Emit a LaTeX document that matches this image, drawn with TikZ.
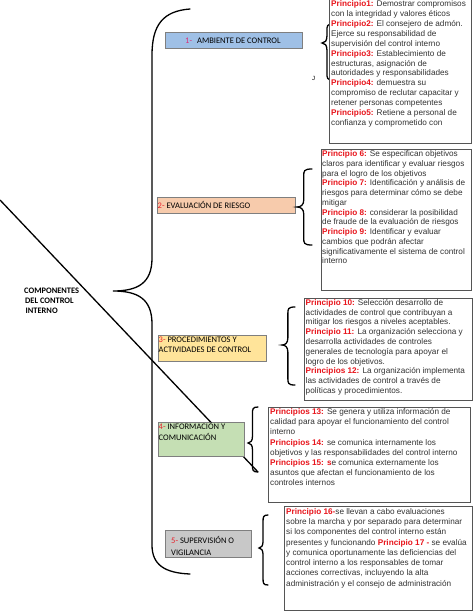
\documentclass[tikz,border=0pt]{standalone}
\usepackage{fontspec}
\setmainfont{Liberation Sans}
\newfontfamily\lblfont{Carlito}
\definecolor{prred}{HTML}{E8141B}
\definecolor{numred}{HTML}{E8202A}
\definecolor{nummag}{HTML}{D8307A}
\definecolor{bxline}{HTML}{7F7F7F}
\definecolor{tline}{HTML}{555555}
\definecolor{ctext}{HTML}{333333}
\definecolor{cblue}{HTML}{9FC0E6}
\definecolor{csalmon}{HTML}{F7CBAC}
\definecolor{cyellow}{HTML}{FFE49A}
\definecolor{cgreen}{HTML}{C5DFB4}
\definecolor{cgrey}{HTML}{C8C8C8}
\newcommand\prn[1]{\textcolor{prred}{\textbf{#1}}}
\newcommand\nmb[1]{\textcolor{numred}{#1}}
\tikzset{
  bracestyle/.style={draw=black, line width=1.3pt, line cap=round},
  cbox/.style={draw=bxline, line width=0.8pt, anchor=north west, inner sep=0, outer sep=0},
  tbox/.style={draw=tline, line width=0.8pt, fill=white, anchor=north west, inner sep=0, outer sep=0},
  ptext/.style={anchor=north west, inner sep=0, align=left, text=ctext, font=\fontsize{8.2}{9.9}\selectfont},
  lbl/.style={anchor=west, inner sep=0, align=left, text=black, font=\lblfont\fontsize{8.5}{10.5}\selectfont},
}
\newcommand\sbrace[5]{% xend, ytop, ytip, ybot, width
  \draw[bracestyle] (#1,#2) .. controls ({#1-0.55*#5},#2) and ({#1-0.55*#5},{#2+2}) .. ({#1-0.55*#5},{#2+7})
    -- ({#1-0.55*#5},{#3-7}) .. controls ({#1-0.55*#5},{#3-2}) and ({#1-0.75*#5},#3) .. ({#1-#5},#3)
    .. controls ({#1-0.75*#5},#3) and ({#1-0.55*#5},{#3+2}) .. ({#1-0.55*#5},{#3+7})
    -- ({#1-0.55*#5},{#4-7}) .. controls ({#1-0.55*#5},{#4-2}) and ({#1-0.55*#5},#4) .. (#1,#4);}
\begin{document}
\begin{tikzpicture}[x=1pt,y=-1pt]
\useasboundingbox (0,0) rectangle (474,613);
\fill[white] (0,0) rectangle (474,613);

% big brace
\draw[bracestyle] (190,9) .. controls (163,11) and (152,25) .. (152,55)
  -- (152,258) .. controls (152,283) and (138,291) .. (113,291)
  .. controls (138,291) and (152,299) .. (152,324)
  -- (152,545) .. controls (152,565) and (165,573) .. (190,574);

% diagonal line
\coordinate (dstart) at (0,200);
\coordinate (dend) at (258,472);
\draw[line width=1.3pt] (dstart) -- (dend);

% title
\node[anchor=north west, inner sep=0, align=left, font=\lblfont\bfseries\fontsize{8.4}{10}\selectfont] (title) at (24,288) {COMPONENTES\\\hspace{1pt}DEL CONTROL\\\hspace{1.5pt}INTERNO};

% coloured component boxes
\node[cbox, fill=cblue, minimum width=137pt, minimum height=16pt] (b1) at (165,32) {};
\node[lbl] (l1) at (185,40.5) {\textcolor{nummag}{1-}\hspace{5pt}AMBIENTE DE CONTROL};
\node[cbox, fill=csalmon, minimum width=138pt, minimum height=16pt] (b2) at (157,197) {};
\node[lbl] (l2) at (157.5,204.5) {\nmb{2-} EVALUACIÓN DE RIESGO};
\node[cbox, fill=cyellow, minimum width=108pt, minimum height=26pt] (b3) at (158,335) {};
\node[lbl, anchor=north west] (l3) at (158.5,336.5) {\nmb{3-} PROCEDIMIENTOS Y\\ACTIVIDADES DE CONTROL};
\node[cbox, fill=cgreen, minimum width=86pt, minimum height=34pt] (b4) at (158,422) {};
\node[lbl, anchor=north west] (l4) at (158.5,422.5) {\nmb{4-} INFORMACIÓN Y\\COMUNICACIÓN};
\node[cbox, fill=cgrey, minimum width=86pt, minimum height=27pt] (b5) at (165,530) {};
\node[lbl, anchor=north west, font=\lblfont\fontsize{8.5}{12}\selectfont] (l5) at (171,536) {\nmb{5-} SUPERVISIÓN O\\VIGILANCIA};

% small braces
\sbrace{333}{24}{43}{80}{11}
\sbrace{312}{169}{207}{245}{15}
\sbrace{295}{307}{345}{385}{13}
\sbrace{258}{407}{443}{472}{10}
\sbrace{268}{515}{548}{585}{9}

\node[inner sep=0, font=\fontsize{6}{7}\selectfont] (jmark) at (313.5,78) {J};

% principle boxes
\node[tbox, minimum width=142pt, minimum height=145pt] (t1) at (329,-2) {};
\node[ptext] (p1) at (331,0.5) {\prn{Principio1:} Demostrar compromisos\\con la integridad y valores éticos\\\prn{Principio2:} El consejero de admón.\\Ejerce su responsabilidad de\\supervisión del control interno\\\prn{Principio3:} Establecimiento de\\estructuras, asignación de\\autoridades y responsabilidades\\\prn{Principio4:} demuestra su\\compromiso de reclutar capacitar y\\retener personas competentes\\\prn{Principio5:} Retiene a personal de\\confianza y comprometido con};

\node[tbox, minimum width=150pt, minimum height=141pt] (t2) at (321,149) {};
\node[ptext, font=\fontsize{8.2}{9.75}\selectfont] (p2) at (322,150.5) {\prn{Principio 6:} Se especifican objetivos\\claros para identificar y evaluar riesgos\\para el logro de los objetivos\\\prn{Principio 7:} Identificación y análisis de\\riesgos para determinar cómo se debe\\mitigar\\\prn{Principio 8:} considerar la posibilidad\\de fraude de la evaluación de riesgos\\\prn{Principio 9:} Identificar y evaluar\\cambios que podrán afectar\\significativamente el sistema de control\\interno};

\node[tbox, minimum width=168pt, minimum height=102pt] (t3) at (304,298) {};
\node[ptext, font=\fontsize{8.2}{9.8}\selectfont] (p3) at (305.5,299) {\prn{Principio 10:} Selección desarrollo de\\actividades de control que contribuyan a\\mitigar los riesgos a niveles aceptables.\\\prn{Principio 11:} La organización selecciona y\\desarrolla actividades de controles\\generales de tecnología para apoyar el\\logro de los objetivos.\\\prn{Principios 12:} La organización implementa\\las actividades de control a través de\\políticas y procedimientos.};

\node[tbox, minimum width=202pt, minimum height=95pt] (t4) at (268,407) {};
\node[ptext, font=\fontsize{8.2}{10.1}\selectfont] (p4) at (270,408.5) {\prn{Principios 13:} Se genera y utiliza información de\\calidad para apoyar el funcionamiento del control\\interno\\\prn{Principios 14:} se comunica internamente los\\objetivos y las responsabilidades del control interno\\\prn{Principios 15: s}e comunica externamente los\\asuntos que afectan el funcionamiento de los\\controles internos};

\node[tbox, minimum width=188pt, minimum height=104pt] (t5) at (284,506) {};
\node[ptext, font=\fontsize{8.2}{10.3}\selectfont] (p5) at (286,508) {\prn{Principio 16-}se llevan a cabo evaluaciones\\sobre la marcha y por separado para determinar\\si los componentes del control interno están\\presentes y funcionando \prn{Principio 17 -} se evalúa\\y comunica oportunamente las deficiencias del\\control interno a los responsables de tomar\\acciones correctivas, incluyendo la alta\\administración y el consejo de administración};
\end{tikzpicture}
\end{document}
